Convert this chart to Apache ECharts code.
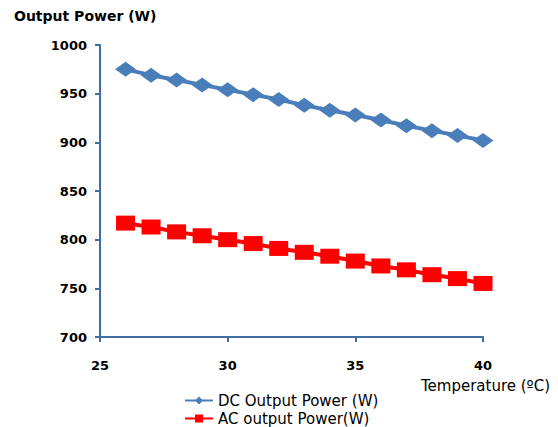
<!DOCTYPE html>
<html><head><meta charset="utf-8">
<script src="https://cdn.jsdelivr.net/npm/echarts@6/dist/echarts.min.js"></script>
<style>html,body{margin:0;padding:0;background:#fff}#c{width:558px;height:427px}</style>
</head><body><div id="c"></div>
<script>
const temperature = [26,27,28,29,30,31,32,33,34,35,36,37,38,39,40];
const dcPower = [975,969,964,959,954,949,944,938,933,928,923,917,912,907,902];
const acPower = [817,813,808,804,800,796,791,787,783,778,773,769,764,760,755];
const yTicks = {min:700, max:1000, interval:50};
const xTicks = {min:25, max:40, interval:5};
const seriesNames = ['DC Output Power (W)','AC output Power(W)'];

const axisColor = '#3f6ca3';
const FONT = 'DejaVu Sans';
const legendBase = {
  orient:'horizontal', left:184, padding:0, itemWidth:28, itemHeight:10, itemGap:4,
  textStyle:{fontFamily:FONT, fontSize:15, color:'#000', lineHeight:15}
};
const chart = echarts.init(document.getElementById('c'), null, {renderer:'svg'});
chart.setOption({
  animation:false,
  backgroundColor:'#fff',
  grid:{left:100, right:75, top:45, bottom:90},
  legend:[
    Object.assign({}, legendBase, {top:393, data:[seriesNames[0]]}),
    Object.assign({}, legendBase, {top:411, data:[seriesNames[1]]})
  ],
  graphic:[
    {type:'text', left:14, top:9, style:{text:'Output Power (W)', font:'bold 14px "DejaVu Sans"', fill:'#000'}},
    {type:'text', right:8, top:378, style:{text:'Temperature (ºC)', font:'15px "DejaVu Sans"', fill:'#000'}}
  ],
  xAxis:{
    type:'value', min:xTicks.min, max:xTicks.max, interval:xTicks.interval,
    axisLine:{show:true, onZero:false, lineStyle:{color:axisColor, width:2}},
    axisTick:{show:true, length:5, lineStyle:{color:axisColor, width:2}},
    axisLabel:{show:true, margin:22, fontFamily:FONT, fontSize:13, fontWeight:'bold', color:'#000'},
    splitLine:{show:false}
  },
  yAxis:{
    type:'value', min:yTicks.min, max:yTicks.max, interval:yTicks.interval,
    axisLine:{show:true, onZero:false, lineStyle:{color:axisColor, width:2}},
    axisTick:{show:true, length:5, lineStyle:{color:axisColor, width:2}},
    axisLabel:{margin:13, fontFamily:FONT, fontSize:13, fontWeight:'bold', color:'#000', formatter:v=>String(v)},
    splitLine:{show:false}
  },
  series:[
    {name:seriesNames[0], type:'line', data:temperature.map((t,i)=>[t,dcPower[i]]),
     symbol:'diamond', symbolSize:[21,15], itemStyle:{color:'#4a7ebb'}, lineStyle:{color:'#4a7ebb', width:4}},
    {name:seriesNames[1], type:'line', data:temperature.map((t,i)=>[t,acPower[i]]),
     symbol:'rect', symbolSize:[19,15], itemStyle:{color:'#ff0000'}, lineStyle:{color:'#ff0000', width:4}}
  ]
});
</script></body></html>
